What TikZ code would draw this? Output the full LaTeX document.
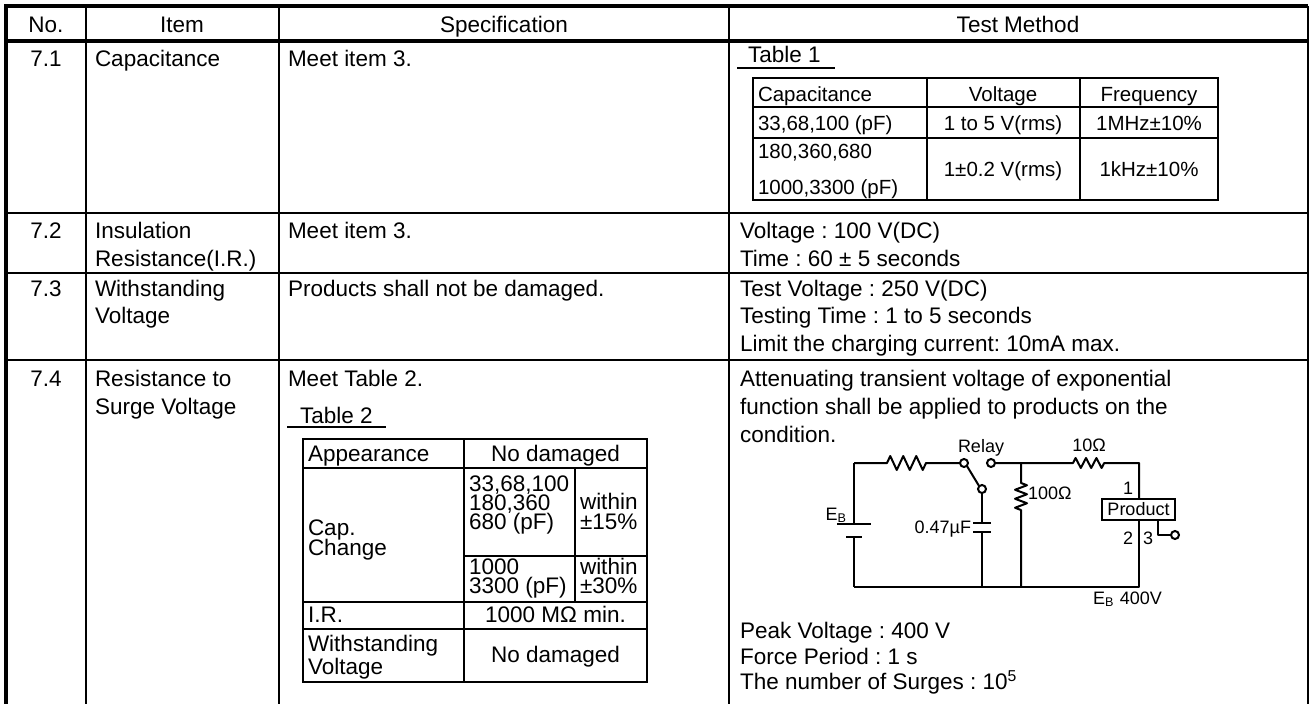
\documentclass[tikz,border=0pt]{standalone}
\usepackage{fontspec}
\setmainfont{Liberation Sans}
\frenchspacing
\begin{document}
\begin{tikzpicture}[x=1pt,y=-1pt,
 every node/.style={inner sep=0pt, outer sep=0pt},
 bt/.style={font=\fontsize{22.5}{28}\selectfont\frenchspacing},
 tl/.style={bt, anchor=base west},
 tc/.style={bt, anchor=base},
 st/.style={font=\fontsize{20.5}{24}\selectfont\frenchspacing},
 stl/.style={st, anchor=base west},
 stc/.style={st, anchor=base},
 ct/.style={font=\fontsize{18}{20}\selectfont},
 gridline/.style={line width=2pt},
 borderline/.style={line width=3.5pt},
 uline/.style={line width=1.6pt},
 wire/.style={line width=2pt, line join=round},
 term/.style={circle, draw, line width=2pt, minimum size=8pt, fill=white},
]
\useasboundingbox (0,0) rectangle (1312,704);
\fill[white] (0,0) rectangle (1312,704);

% ---------- main grid ----------
\draw[borderline] (6,704) -- (6,6) -- (1308,6);
\draw[line width=2.6pt] (1308,6) -- (1308,704);
\draw[line width=3.2pt] (6,41) -- (1308,41);
\draw[gridline] (86,6) -- (86,704);
\draw[gridline] (279,6) -- (279,704);
\draw[gridline] (729,6) -- (729,704);
\draw[gridline] (6,213) -- (1308,213);
\draw[gridline] (6,273) -- (1308,273);
\draw[gridline] (6,360) -- (1308,360);

% ---------- header ----------
\node[tc] (hno) at (46,32) {No.};
\node[tc] (hitem) at (182,32) {Item};
\node[tc] (hspec) at (504,32) {Specification};
\node[tc] (htest) at (1018,32) {Test Method};

% ---------- 7.1 ----------
\node[tc] (n71) at (46,66) {7.1};
\node[tl] (i71) at (95,66) {Capacitance};
\node[tl] (s71) at (288,66) {Meet item 3.};
\node[tl] (t1lab) at (748,62) {Table 1};
\draw[uline] (737,68) -- (835,68);
% Table 1
\draw[gridline] (753,78) rectangle (1218,200);
\draw[gridline] (927,78) -- (927,200);
\draw[gridline] (1080,78) -- (1080,200);
\draw[gridline] (753,107) -- (1218,107);
\draw[gridline] (753,138) -- (1218,138);
\node[stl] (t1a) at (758,101) {Capacitance};
\node[stc] (t1b) at (1003,101) {Voltage};
\node[stc] (t1c) at (1149,101) {Frequency};
\node[stl] (t1d) at (758,130) {33,68,100 (pF)};
\node[stc] (t1e) at (1003,130) {1 to 5 V(rms)};
\node[stc] (t1f) at (1149,130) {1MHz±10\%};
\node[stl] (t1g) at (758,158) {180,360,680};
\node[stl] (t1h) at (758,194) {1000,3300 (pF)};
\node[stc] (t1i) at (1003,176) {1±0.2 V(rms)};
\node[stc] (t1j) at (1149,176) {1kHz±10\%};

% ---------- 7.2 ----------
\node[tc] (n72) at (46,238) {7.2};
\node[tl] (i72a) at (95,238) {Insulation};
\node[tl] (i72b) at (95,266) {Resistance(I.R.)};
\node[tl] (s72) at (288,238) {Meet item 3.};
\node[tl] (m72a) at (740,238) {Voltage : 100 V(DC)};
\node[tl] (m72b) at (740,266) {Time : 60 ± 5 seconds};

% ---------- 7.3 ----------
\node[tc] (n73) at (46,296) {7.3};
\node[tl] (i73a) at (95,296) {Withstanding};
\node[tl] (i73b) at (95,323) {Voltage};
\node[tl] (s73) at (288,296) {Products shall not be damaged.};
\node[tl] (m73a) at (740,296) {Test Voltage : 250 V(DC)};
\node[tl] (m73b) at (740,323) {Testing Time : 1 to 5 seconds};
\node[tl] (m73c) at (740,351) {Limit the charging current: 10mA max.};

% ---------- 7.4 ----------
\node[tc] (n74) at (46,386) {7.4};
\node[tl] (i74a) at (95,386) {Resistance to};
\node[tl] (i74b) at (95,414) {Surge Voltage};
\node[tl] (s74) at (288,386) {Meet Table 2.};
\node[tl] (t2lab) at (300,423) {Table 2};
\draw[uline] (287,427) -- (386,427);
\node[tl] (m74a) at (740,386) {Attenuating transient voltage of exponential};
\node[tl] (m74b) at (740,414) {function shall be applied to products on the};
\node[tl] (m74c) at (740,442) {condition.};
\node[tl] (m74d) at (740,638) {Peak Voltage : 400 V};
\node[tl] (m74e) at (740,664) {Force Period : 1 s};
\node[tl] (m74f) at (740,689) {The number of Surges : 10\textsuperscript{5}};

% Table 2
\draw[gridline] (303,439) rectangle (647,682);
\draw[gridline] (464,439) -- (464,682);
\draw[gridline] (575,468) -- (575,602);
\draw[gridline] (303,468) -- (647,468);
\draw[gridline] (464,556) -- (647,556);
\draw[gridline] (303,602) -- (647,602);
\draw[gridline] (303,629) -- (647,629);
\node[tl] (t2a) at (308,461) {Appearance};
\node[tc] (t2b) at (555.5,461) {No damaged};
\node[tl] (t2c) at (308,535) {Cap.};
\node[tl] (t2d) at (308,555) {Change};
\node[tl] (t2e) at (469,491) {33,68,100};
\node[tl] (t2f) at (469,510) {180,360};
\node[tl] (t2g) at (469,529) {680 (pF)};
\node[tl] (t2h) at (580,509) {within};
\node[tl] (t2i) at (580,529) {±15\%};
\node[tl] (t2j) at (469,574) {1000};
\node[tl] (t2k) at (469,593) {3300 (pF)};
\node[tl] (t2l) at (580,574) {within};
\node[tl] (t2m) at (580,593) {±30\%};
\node[tl] (t2n) at (308,622) {I.R.};
\node[tc] (t2o) at (555.5,622) {1000 MΩ min.};
\node[tl] (t2p) at (308,651) {Withstanding};
\node[tl] (t2q) at (308,674) {Voltage};
\node[tc] (t2r) at (555.5,662) {No damaged};

% ---------- circuit ----------
\coordinate (tl) at (854,463);
\coordinate (bl) at (854,587);
\coordinate (r1a) at (887,463);
\coordinate (r1b) at (926,463);
\coordinate (jn) at (1021,463);
\coordinate (r2a) at (1073,463);
\coordinate (r2b) at (1104,463);
\coordinate (tr) at (1139,463);
\coordinate (br) at (1139,587);
\coordinate (jb) at (1021,587);
\coordinate (cb) at (982,587);
\coordinate (r3a) at (1021,483);
\coordinate (r3b) at (1021,510);
\node[term] (sw1) at (964,463) {};
\node[term] (sw2) at (991,463) {};
\node[term] (sw3) at (982,489) {};
\node[draw, line width=2pt, minimum width=73pt, minimum height=21pt, anchor=north west] (prod) at (1102,499) {};
\node[ct] (prodt) at (prod.center) {Product};
\node[term] (pin3) at (1175,535) {};

% battery
\draw[wire] (tl) -- (854,524);
\draw[wire] (837,524) -- (871,524);
\draw[wire] (846,537) -- (862,537);
\draw[wire] (854,537) -- (bl);
% top wire with resistor
\draw[wire] (tl) -- (r1a) -- ++(3.25,-7) -- ++(6.5,14) -- ++(6.5,-14) -- ++(6.5,14) -- ++(6.5,-14) -- ++(6.5,14) -- ++(3.25,-7) -- (r1b) -- (sw1.west);
% switch blade
\draw[wire] (sw1.south east) -- (sw3.north west);
% capacitor
\draw[wire] (sw3.south) -- (982,523);
\draw[wire] (973,523) -- (991,523);
\draw[wire] (973,532) -- (991,532);
\draw[wire] (982,532) -- (cb);
% right part
\draw[wire] (sw2.east) -- (jn) -- (r2a) -- ++(2.6,-5) -- ++(5.2,10) -- ++(5.2,-10) -- ++(5.2,10) -- ++(5.2,-10) -- ++(5.2,10) -- ++(2.6,-5) -- (r2b) -- (tr) -- (prod.north -| tr);
\draw[wire] (jn) -- (r3a) -- ++(6,2.25) -- ++(-12,4.5) -- ++(12,4.5) -- ++(-12,4.5) -- ++(12,4.5) -- ++(-12,4.5) -- ++(6,2.25) -- (r3b) -- (jb);
\draw[wire] (prod.south -| br) -- (br) -- (jb) -- (cb) -- (bl);
\draw[wire] (1158,520) -- (1158,535) -- (pin3.west);

% circuit labels
\node[ct, anchor=base] (lrelay) at (981,452) {Relay};
\node[ct, anchor=base] (l10) at (1089,451) {10Ω};
\node[ct, anchor=base west] (l100) at (1028,499) {100Ω};
\node[ct, anchor=base] (l1) at (1128,494) {1};
\node[ct, anchor=base] (l2) at (1128,544) {2};
\node[ct, anchor=base] (l3) at (1148,544) {3};
\node[ct, anchor=base] (leb) at (836,520) {E\textsubscript{B}};
\node[ct, anchor=base east] (lcap) at (971,533) {0.47µF};
\node[ct, anchor=base west] (leb2) at (1093,604) {E\textsubscript{B}\hspace{6pt}400V};
\end{tikzpicture}
\end{document}
